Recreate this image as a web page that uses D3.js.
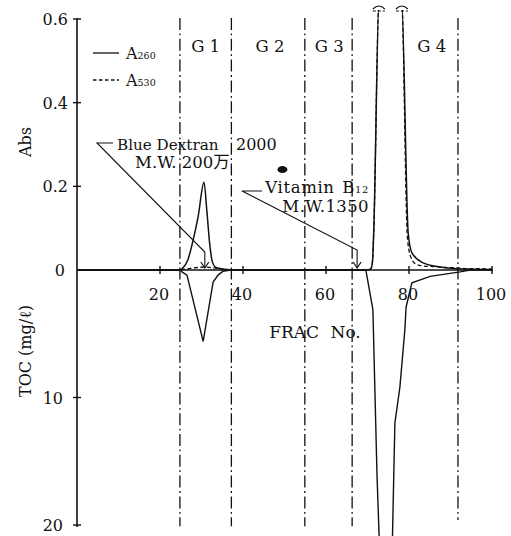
<!DOCTYPE html>
<html>
<head>
<meta charset="utf-8">
<script src="https://cdn.jsdelivr.net/npm/d3@7"></script>
<style>
  body { margin: 0; background: #fff; }
  svg text { font-family: "DejaVu Serif", "Liberation Serif", "Noto Sans CJK JP", serif; fill: #111; }
</style>
</head>
<body>
<svg id="chart" width="511" height="536"></svg>
<script>
// Gel filtration elution profile: absorbance (top) and TOC (bottom, inverted)
const absTicks = [0, 0.2, 0.4, 0.6];
const absTickLabels = ["0", "0.2", "0.4", "0.6"];
const tocTicks = [10, 20];
const fracTicks = [20, 40, 60, 80, 100];

// fraction boundaries between groups and group names
const groupBounds = [24.8, 37.2, 54.9, 66.3, 91.8];
const groupNames = ["G 1", "G 2", "G 3", "G 4"];
const groupLabelFrac = [31, 46.5, 60.8, 85.5];

// A260 [fraction, absorbance]
const a260 = [
  [0, 0], [24.5, 0], [25.5, 0.005], [26.7, 0.024], [28.0, 0.072], [29.2, 0.128],
  [30.6, 0.21], [31.3, 0.14], [32.0, 0.06], [32.6, 0.02], [33.5, 0.006], [35.5, 0.002],
  [38, 0], [70, 0], [70.8, 0.003], [71.2, 0.02], [71.5, 0.09], [72.8, 0.65],
  [78.2, 0.65], [79.8, 0.089], [80.7, 0.041], [83.4, 0.017], [87.5, 0.007],
  [91.5, 0.003], [95, 0.002], [100, 0.001]
];

// A530 [fraction, absorbance]
const a530 = [
  [0, 0], [24, 0], [26, 0.002], [29, 0.006], [31, 0.007], [33, 0.005], [35, 0.002],
  [38, 0], [70, 0], [70.8, 0.003], [71.2, 0.02], [71.5, 0.09], [72.8, 0.65],
  [78.2, 0.65], [79.6, 0.08], [80.3, 0.035], [81.5, 0.015], [83, 0.01], [86, 0.008],
  [89, 0.006], [92, 0.005], [94, 0.003], [97, 0.003], [100, 0.002]
];

// TOC [fraction, mg/l]
const toc = [
  [0, 0], [24.8, 0], [25.3, 0.15], [26.5, 0.4], [30.4, 5.6], [32.8, 0.95], [34, 0.4],
  [35.2, 0.1], [37, 0], [69.6, 0], [71.3, 3.1], [72.3, 16.2], [73.0, 22.7],
  [75.9, 22.7], [76.6, 12.0], [77.8, 9.2], [79.0, 4.7], [79.3, 2.9], [80.7, 1.0],
  [85.1, 0.5], [92.3, 0.15], [94.7, 0], [100, 0]
];

// marker annotations
const markers = [
  { name: "Blue Dextran", num: "2000", mw: "M.W. 200万", frac: 30.8 },
  { name: "Vitamin B", sub: "12", mw: "M.W.1350", frac: 67.5 }
];

const svg = d3.select("#chart");
const x = d3.scaleLinear().domain([0, 100]).range([77, 492]);
const yAbs = d3.scaleLinear().domain([0, 0.6]).range([270, 19]);
const yToc = d3.scaleLinear().domain([0, 20]).range([270, 525]);

const absTop = 10; // top edge where off-scale peaks are cut
const absCut = yAbs.invert(absTop);

svg.append("defs").append("clipPath").attr("id", "absClip")
  .append("rect").attr("x", 0).attr("y", absTop).attr("width", 511).attr("height", 526);

// group boundaries (dash-dot)
svg.append("g").selectAll("line").data(groupBounds).join("line")
  .attr("x1", d => x(d)).attr("x2", d => x(d))
  .attr("y1", yAbs(0.6) - 1)
  .attr("y2", (d, i) => yToc(i === groupBounds.length - 1 ? 19.6 : 20.1))
  .attr("stroke", "#111").attr("stroke-width", 1.3)
  .attr("stroke-dasharray", "12,3.5,1.8,3.5");

svg.append("g").selectAll("text").data(groupNames).join("text")
  .attr("x", (d, i) => x(groupLabelFrac[i])).attr("y", 52)
  .attr("text-anchor", "middle").attr("font-size", 16.5)
  .text(d => d);

// axes
const axisColor = "#111";
svg.append("line").attr("x1", x(0)).attr("x2", x(0))
  .attr("y1", yAbs(0.6) - 1).attr("y2", yToc(20) + 2)
  .attr("stroke", axisColor).attr("stroke-width", 1.6);
svg.append("line").attr("x1", x(0)).attr("x2", x(100) + 1)
  .attr("y1", yAbs(0)).attr("y2", yAbs(0))
  .attr("stroke", axisColor).attr("stroke-width", 1.6);

const yAxisG = svg.append("g");
yAxisG.selectAll("line.abs").data(absTicks.filter(d => d > 0)).join("line")
  .attr("x1", x(0) - 4).attr("x2", x(0) + 4)
  .attr("y1", d => yAbs(d)).attr("y2", d => yAbs(d))
  .attr("stroke", axisColor).attr("stroke-width", 1.4);
yAxisG.selectAll("text.abs").data(absTicks).join("text")
  .attr("x", (d) => d === 0 ? 65 : 68).attr("y", d => yAbs(d) + 6)
  .attr("text-anchor", "end").attr("font-size", 16)
  .text((d, i) => absTickLabels[i]);
yAxisG.selectAll("line.toc").data(tocTicks).join("line")
  .attr("x1", x(0) - 4).attr("x2", x(0) + 4)
  .attr("y1", d => yToc(d)).attr("y2", d => yToc(d))
  .attr("stroke", axisColor).attr("stroke-width", 1.4);
yAxisG.selectAll("text.toc").data(tocTicks).join("text")
  .attr("x", 63).attr("y", d => yToc(d) + 6)
  .attr("text-anchor", "end").attr("font-size", 16)
  .text(d => d);

const xAxisG = svg.append("g");
xAxisG.selectAll("line").data(fracTicks).join("line")
  .attr("x1", d => x(d)).attr("x2", d => x(d))
  .attr("y1", yAbs(0) - 4).attr("y2", yAbs(0) + 4)
  .attr("stroke", axisColor).attr("stroke-width", 1.4);
xAxisG.selectAll("text").data(fracTicks).join("text")
  .attr("x", d => x(d) - 1).attr("y", 300)
  .attr("text-anchor", "middle").attr("font-size", 16)
  .text(d => d);

// axis titles
svg.append("text").attr("transform", "translate(31,142) rotate(-90)")
  .attr("text-anchor", "middle").attr("font-size", 16).text("Abs");
svg.append("text").attr("transform", "translate(31,351) rotate(-90)")
  .attr("text-anchor", "middle").attr("font-size", 16).text("TOC (mg/ℓ)");
svg.append("text").attr("x", 315).attr("y", 338)
  .attr("text-anchor", "middle").attr("font-size", 17)
  .attr("word-spacing", 6).text("FRAC No.");

// curves
const absLine = d3.line().x(d => x(d[0])).y(d => yAbs(d[1])).curve(d3.curveMonotoneX);
const tocLine = d3.line().x(d => x(d[0])).y(d => yToc(d[1]));

const plot = svg.append("g").attr("clip-path", "url(#absClip)");
plot.append("path").datum(a530).attr("d", absLine)
  .attr("fill", "none").attr("stroke", "#111").attr("stroke-width", 1.3)
  .attr("stroke-dasharray", "4,2.5");
plot.append("path").datum(a260).attr("d", absLine)
  .attr("fill", "none").attr("stroke", "#111").attr("stroke-width", 1.5);
svg.append("path").datum(toc).attr("d", tocLine)
  .attr("fill", "none").attr("stroke", "#111").attr("stroke-width", 1.4);

// break marks where the peak leaves the scale
const cuts = [];
for (let i = 1; i < a260.length; i++) {
  const [f0, v0] = a260[i - 1], [f1, v1] = a260[i];
  if ((v0 - absCut) * (v1 - absCut) < 0) cuts.push(f0 + (absCut - v0) / (v1 - v0) * (f1 - f0));
}
cuts.forEach(f => {
  const cx = x(f);
  svg.append("path")
    .attr("d", `M${cx - 6},${absTop - 1} Q${cx},${absTop - 7} ${cx + 6},${absTop - 1}`)
    .attr("fill", "none").attr("stroke", "#111").attr("stroke-width", 1.1);
  svg.append("line").attr("x1", cx - 6).attr("x2", cx + 6)
    .attr("y1", absTop + 1).attr("y2", absTop + 1)
    .attr("stroke", "#111").attr("stroke-width", 1.1).attr("stroke-dasharray", "3,2");
});

// legend
const legend = [{ sub: "260", dash: null, y: 53 }, { sub: "530", dash: "3.5,2.5", y: 80 }];
legend.forEach(l => {
  svg.append("line").attr("x1", 93).attr("x2", 119).attr("y1", l.y).attr("y2", l.y)
    .attr("stroke", "#111").attr("stroke-width", 1.3)
    .attr("stroke-dasharray", l.dash);
  const t = svg.append("text").attr("x", 126).attr("y", l.y + 6).attr("font-size", 16);
  t.append("tspan").text("A");
  t.append("tspan").attr("font-size", 9.5).text(l.sub);
});

// annotations with arrows
function arrowDown(px, yTip) {
  svg.append("path")
    .attr("d", `M${px - 4},${yTip - 6} L${px},${yTip} L${px + 4},${yTip - 6}`)
    .attr("fill", "none").attr("stroke", "#111").attr("stroke-width", 1.2);
}
{
  const m = markers[0], px = x(m.frac);
  svg.append("path")
    .attr("d", `M113,143 L97,143 L${px},252 L${px},${yAbs(0) - 2}`)
    .attr("fill", "none").attr("stroke", "#111").attr("stroke-width", 1.1);
  arrowDown(px, yAbs(0) - 2);
  const t = svg.append("text").attr("x", 117).attr("y", 150).attr("font-size", 15.2);
  t.append("tspan").text(m.name);
  t.append("tspan").attr("x", 236).attr("font-size", 16).text(m.num);
  svg.append("text").attr("x", 135).attr("y", 168).attr("font-size", 16.5).text(m.mw);
}
{
  const m = markers[1], px = x(m.frac);
  svg.append("path")
    .attr("d", `M262,191 L242,191 L${px},250 L${px},${yAbs(0) - 2}`)
    .attr("fill", "none").attr("stroke", "#111").attr("stroke-width", 1.1);
  arrowDown(px, yAbs(0) - 2);
  const t = svg.append("text").attr("x", 369).attr("y", 193)
    .attr("text-anchor", "end").attr("font-size", 16.5)
    .attr("letter-spacing", 0.6).attr("word-spacing", 2);
  t.append("tspan").text(m.name);
  t.append("tspan").attr("font-size", 10).text(m.sub);
  svg.append("text").attr("x", 369).attr("y", 212)
    .attr("text-anchor", "end").attr("font-size", 16.5)
    .attr("letter-spacing", 0.4).text(m.mw);
}

// ink spot on the sheet
svg.append("ellipse").attr("cx", x(49.5)).attr("cy", yAbs(0.24))
  .attr("rx", 5).attr("ry", 3.5).attr("fill", "#111");
</script>
</body>
</html>
